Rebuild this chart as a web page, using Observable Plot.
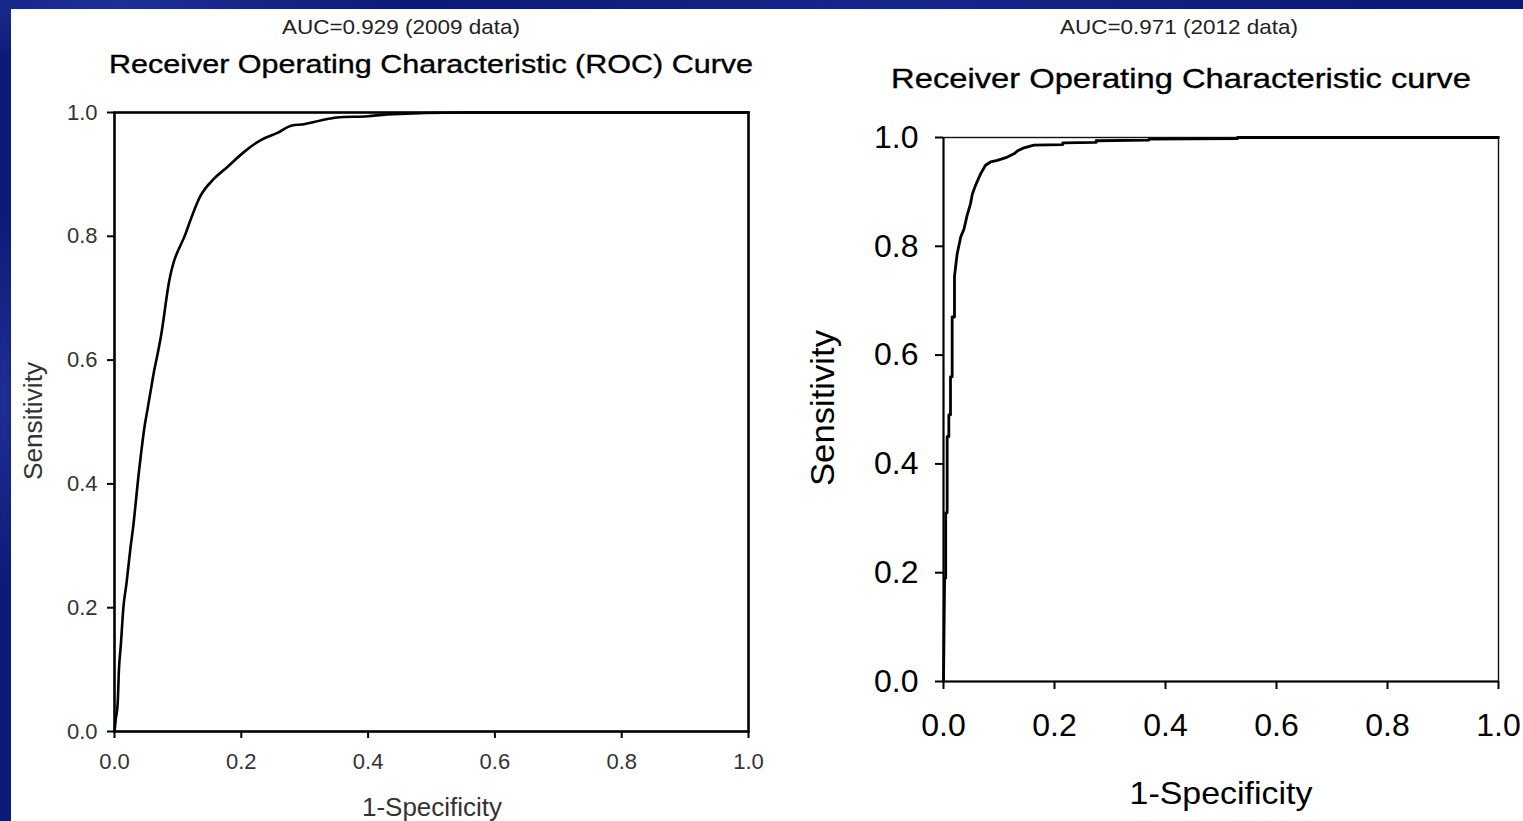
<!DOCTYPE html>
<html>
<head>
<meta charset="utf-8">
<script src="https://cdn.jsdelivr.net/npm/d3@7"></script>
<script src="https://cdn.jsdelivr.net/npm/@observablehq/plot@0.6"></script>
<style>
  html, body { margin: 0; padding: 0; }
  body {
    width: 1523px; height: 821px; overflow: hidden; position: relative;
    background:
      radial-gradient(ellipse 300px 60px at 120px 4px, rgba(70,90,200,0.35), transparent),
      radial-gradient(ellipse 20px 200px at 4px 400px, rgba(60,80,190,0.4), transparent),
      radial-gradient(ellipse 500px 40px at 900px 2px, rgba(50,70,180,0.3), transparent),
      #0a1a78;
    font-family: "Liberation Sans", Arial, sans-serif;
  }
  #panel { position: absolute; left: 11px; top: 9px; right: 0; bottom: 0; background: #fff; }
  .t { position: absolute; white-space: nowrap; line-height: 1; transform-origin: center center; }
  .bold { -webkit-text-stroke: 0.35px currentColor; }
  .chart { position: absolute; }
</style>
</head>
<body>
<div id="panel"></div>
<div id="root"></div>
<script>
// ---- data: 2009 ROC curve ----
const fpr2009 = [0, 0.002, 0.005, 0.007, 0.010, 0.014, 0.019, 0.025, 0.030, 0.034, 0.038, 0.042, 0.047, 0.052, 0.057, 0.062, 0.067, 0.073, 0.086, 0.112, 0.136, 0.157, 0.178, 0.204, 0.230, 0.257, 0.280, 0.299, 0.325, 0.351, 0.400, 0.430, 0.554, 1.0];
const tpr2009 = [0, 0.020, 0.045, 0.100, 0.140, 0.200, 0.240, 0.295, 0.335, 0.375, 0.415, 0.450, 0.490, 0.520, 0.550, 0.580, 0.605, 0.637, 0.726, 0.804, 0.866, 0.893, 0.912, 0.936, 0.955, 0.967, 0.979, 0.981, 0.987, 0.992, 0.994, 0.997, 1.0, 1.0];
// ---- data: 2012 ROC curve ----
const fpr2012 = [0, 0.002, 0.004, 0.004, 0.0066, 0.0066, 0.0096, 0.0096, 0.0126, 0.0126, 0.0156, 0.0156, 0.0198, 0.0198, 0.0246, 0.031, 0.037, 0.0426, 0.0486, 0.052, 0.0577, 0.0667, 0.0757, 0.0847, 0.097, 0.115, 0.127, 0.133, 0.145, 0.163, 0.215, 0.215, 0.275, 0.275, 0.37, 0.37, 0.53, 0.53, 1.0];
const tpr2012 = [0, 0.19, 0.19, 0.31, 0.31, 0.45, 0.45, 0.49, 0.49, 0.56, 0.56, 0.67, 0.67, 0.745, 0.786, 0.817, 0.832, 0.857, 0.878, 0.896, 0.912, 0.933, 0.949, 0.955, 0.958, 0.964, 0.970, 0.975, 0.981, 0.986, 0.987, 0.990, 0.991, 0.994, 0.995, 0.997, 0.998, 1.0, 1.0];
// ---- ticks & labels ----
const tickValues = [0, 0.2, 0.4, 0.6, 0.8, 1.0];
const auc2009 = "AUC=0.929 (2009 data)";
const auc2012 = "AUC=0.971 (2012 data)";
const title2009 = "Receiver Operating Characteristic (ROC) Curve";
const title2012 = "Receiver Operating Characteristic curve";
const xLabel = "1-Specificity";
const yLabel = "Sensitivity";

const root = document.getElementById("root");
const fmt = d => d.toFixed(1);
const FONT = '"Liberation Sans", Arial, sans-serif';

function addText(txt, cx, cy, size, opts = {}) {
  const el = document.createElement("div");
  el.className = "t" + (opts.bold ? " bold" : "");
  el.textContent = txt;
  el.style.fontSize = size + "px";
  el.style.color = opts.color || "#111";
  el.style.left = cx + "px";
  el.style.top = cy + "px";
  const sx = opts.sx || 1;
  const rot = opts.rotate ? ` rotate(${opts.rotate}deg)` : "";
  el.style.transform = `translate(-50%,-50%)${rot} scaleX(${sx})`;
  root.appendChild(el);
}

// ---------- Left chart (2009) ----------
{
  const data = fpr2009.map((x, i) => ({x, y: tpr2009[i]}));
  const left = 11, top = 95;
  const chart = Plot.plot({
    width: 767, height: 676,
    marginLeft: 103, marginRight: 30, marginTop: 17, marginBottom: 40,
    x: {domain: [0, 1], axis: null},
    y: {domain: [0, 1], axis: null},
    style: {fontFamily: FONT, background: "transparent", overflow: "visible"},
    marks: [
      Plot.axisX({ticks: tickValues, tickFormat: fmt, tickSize: 7, tickPadding: 15, strokeWidth: 2, stroke: "#000", fill: "#333", fontSize: 22, label: null}),
      Plot.axisY({ticks: tickValues, tickFormat: fmt, tickSize: 7, tickPadding: 10, strokeWidth: 2, stroke: "#000", fill: "#333", fontSize: 22, label: null}),
      Plot.line(data, {x: "x", y: "y", stroke: "#000", strokeWidth: 2.6, curve: "monotone-x"}),
      Plot.frame({stroke: "#000", strokeWidth: 2.6})
    ]
  });
  chart.classList.add("chart");
  chart.style.left = left + "px";
  chart.style.top = top + "px";
  root.appendChild(chart);

  addText(auc2009, 401, 26, 21, {color: "#222", sx: 1.07});
  addText(title2009, 431, 65, 25.5, {color: "#000", sx: 1.196, bold: true});
  addText(xLabel, 432, 807, 25, {color: "#333", sx: 1.04});
  addText(yLabel, 33, 421, 25, {color: "#333", rotate: -90, sx: 1.05});
}

// ---------- Right chart (2012) ----------
{
  const data = fpr2012.map((x, i) => ({x, y: tpr2012[i]}));
  const left = 840, top = 100;
  const chart = Plot.plot({
    width: 678, height: 641,
    marginLeft: 103, marginRight: 20, marginTop: 37, marginBottom: 60,
    x: {domain: [0, 1], axis: null},
    y: {domain: [0, 1], axis: null},
    style: {fontFamily: FONT, background: "transparent", overflow: "visible"},
    marks: [
      Plot.frame({stroke: "#111", strokeWidth: 1.4}),
      Plot.ruleX([0], {stroke: "#000", strokeWidth: 2}),
      Plot.ruleY([0], {stroke: "#000", strokeWidth: 2}),
      Plot.axisX({ticks: tickValues, tickFormat: fmt, tickSize: 8, tickPadding: 24, strokeWidth: 2, stroke: "#000", fill: "#000", fontSize: 32, label: null}),
      Plot.axisY({ticks: tickValues, tickFormat: fmt, tickSize: 8, tickPadding: 17, strokeWidth: 2, stroke: "#000", fill: "#000", fontSize: 32, label: null}),
      Plot.line(data, {x: "x", y: "y", stroke: "#000", strokeWidth: 2.8})
    ]
  });
  chart.classList.add("chart");
  chart.style.left = left + "px";
  chart.style.top = top + "px";
  root.appendChild(chart);

  addText(auc2012, 1179, 26, 21, {color: "#222", sx: 1.07});
  addText(title2012, 1181, 79, 28, {color: "#000", sx: 1.168, bold: true});
  addText(xLabel, 1221, 793, 32, {color: "#000", sx: 1.06});
  addText(yLabel, 822, 408, 33, {color: "#000", rotate: -90, sx: 1.05});
}
</script>
</body>
</html>
